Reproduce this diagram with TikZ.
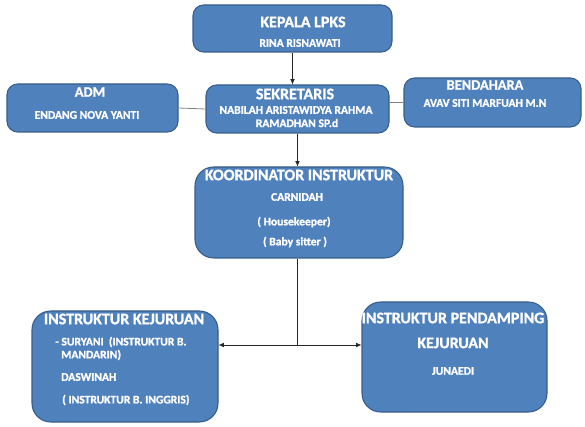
\documentclass[tikz,border=0pt]{standalone}
\usepackage{fontspec}
\setmainfont{Carlito}[BoldFeatures={FakeBold=1.2}]
\usetikzlibrary{arrows.meta}
\definecolor{boxfill}{HTML}{4F81BD}
\definecolor{boxline}{HTML}{385D8A}
\tikzset{
  unit/.style={draw=boxline, fill=boxfill, line width=0.8pt, rounded corners=8pt, inner sep=0pt},
  bigunit/.style={unit, rounded corners=14pt},
  head/.style={text=white, inner sep=0pt, font=\bfseries\fontsize{12}{14}\selectfont},
  smallhead/.style={head, font=\bfseries\fontsize{10.8}{13}\selectfont},
  person/.style={text=white, inner sep=0pt, font=\bfseries\fontsize{8.7}{10}\selectfont},
  link/.style={draw=black!85, line width=0.5pt},
  sidelink/.style={draw=black!50, line width=0.6pt},
  tip/.style={-{Latex[length=4pt,width=3.5pt]}}
}
\begin{document}
\begin{tikzpicture}[x=0.75pt, y=-0.75pt]
\useasboundingbox (0,0) rectangle (585,427);
% boxes
\node[unit, minimum width=199*0.75pt, minimum height=47*0.75pt] (kepala) at (292.5,28.5) {};
\node[unit, minimum width=183*0.75pt, minimum height=48*0.75pt] (sekr) at (297.5,109) {};
\node[unit, minimum width=171*0.75pt, minimum height=48*0.75pt] (adm) at (92.5,108) {};
\node[unit, minimum width=177*0.75pt, minimum height=49*0.75pt] (bend) at (492.5,102.5) {};
\node[bigunit, minimum width=208*0.75pt, minimum height=91*0.75pt] (koord) at (299,212.5) {};
\node[bigunit, minimum width=186*0.75pt, minimum height=111*0.75pt] (kej) at (125,366.5) {};
\node[bigunit, minimum width=185*0.75pt, minimum height=110*0.75pt] (pend) at (454.5,357) {};
\coordinate (hub) at (297,345);
% texts
\node[head] (kepalaT) at (303,22) {KEPALA LPKS};
\node[person] (kepalaN) at (300,43) {RINA RISNAWATI};
\node[head] (sekrT) at (295,94) {SEKRETARIS};
\node[person] (sekrN) at (296,110) {NABILAH ARISTAWIDYA RAHMA};
\node[person] (sekrM) at (297,123) {RAMADHAN SP.d};
\node[smallhead] (admT) at (90,92) {ADM};
\node[person] (admN) at (87,115) {ENDANG NOVA YANTI};
\node[smallhead] (bendT) at (485,85) {BENDAHARA};
\node[person] (bendN) at (485,103) {AVAV SITI  MARFUAH M.N};
\node[head] (koordT) at (299,175) {KOORDINATOR INSTRUKTUR};
\node[person] (koordN) at (297,197) {CARNIDAH};
\node[person] (koordA) at (294,222) {( Housekeeper)};
\node[person] (koordB) at (295,242) {( Baby sitter )};
\node[head] (kejT) at (124,319) {INSTRUKTUR KEJURUAN};
\node[person, anchor=west] (kejA) at (55,342) {- SURYANI\ \ (INSTRUKTUR B.};
\node[person, anchor=west] (kejB) at (61,355) {MANDARIN)};
\node[person, anchor=west] (kejC) at (61,377) {DASWINAH};
\node[person, anchor=west] (kejD) at (62,400) {( INSTRUKTUR B. INGGRIS)};
\node[head] (pendT) at (453,318) {INSTRUKTUR PENDAMPING};
\node[head] (pendK) at (453,343) {KEJURUAN};
\node[person] (pendN) at (453,371) {JUNAEDI};
% connectors
\draw[link, tip] (kepala.south) -- (kepala.south |- sekr.north);
\draw[sidelink] (adm.east) -- (sekr.west);
\draw[sidelink] (bend.west -| sekr.east) -- (bend.west);
\draw[link, tip] (sekr.south) -- (sekr.south |- koord.north);
\draw[link] (koord.south -| hub) -- (hub);
\draw[link, tip] (hub) -- (hub -| kej.east);
\draw[link, tip] (hub) -- (hub -| pend.west);
\end{tikzpicture}
\end{document}
